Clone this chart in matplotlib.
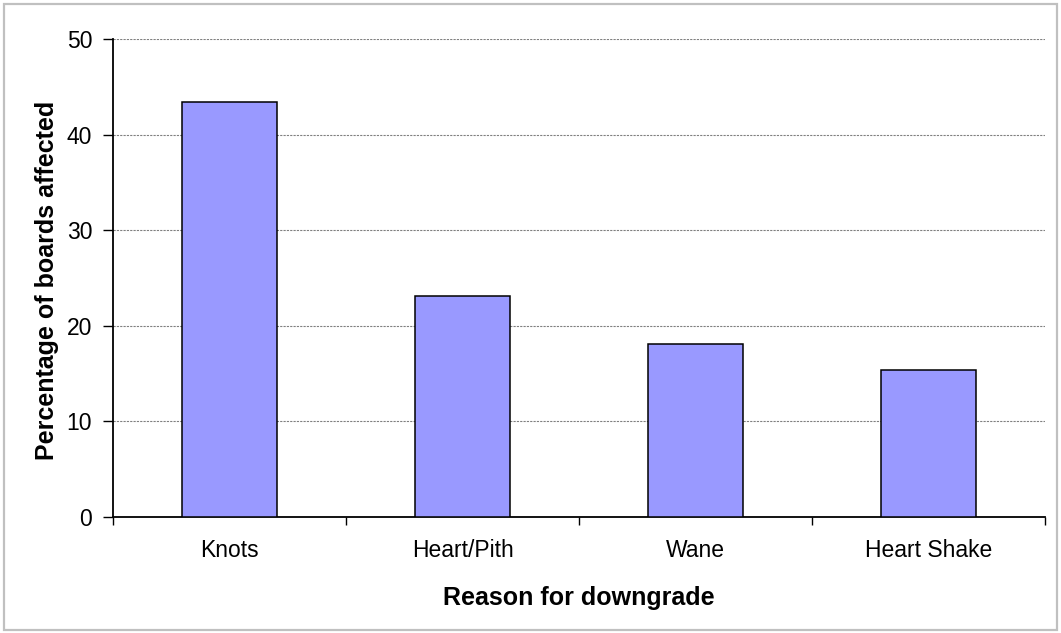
import matplotlib
matplotlib.use("Agg")
import matplotlib.pyplot as plt
from matplotlib.patches import Rectangle
import numpy as np

plt.rcParams['font.family'] = ['Liberation Sans', 'DejaVu Sans']

categories = ["Knots", "Heart/Pith", "Wane", "Heart Shake"]
percentages = [43.4, 23.1, 18.1, 15.4]
y_ticks = [0, 10, 20, 30, 40, 50]

W, H = 1061, 633
fig = plt.figure(figsize=(W / 100, H / 100), dpi=100)
fig.patch.set_facecolor("white")

# light grey frame around the whole chart
fig.add_artist(Rectangle((4 / W, 3 / H), (W - 8) / W, (H - 7) / H,
                         transform=fig.transFigure, fill=False,
                         edgecolor="#c0c0c0", linewidth=1.6))

ax = fig.add_axes([113 / W, 1 - 517 / H, 932 / W, 478 / H])
x = np.arange(len(categories))
ax.bar(x, percentages, width=0.41, color="#9999ff", edgecolor="black",
       linewidth=1.1, zorder=3)

ax.set_xlim(-0.5, len(categories) - 0.5)
ax.set_ylim(0, 50)
ax.set_yticks(y_ticks)
ax.yaxis.grid(True, color="#808080", linestyle=(0, (2, 1)), linewidth=0.8, zorder=0)
ax.set_axisbelow(True)

# major x ticks sit between categories, labels on minor ticks at centres
ax.set_xticks(np.arange(len(categories) + 1) - 0.5)
ax.set_xticklabels([])
ax.set_xticks(x, minor=True)
ax.set_xticklabels(categories, minor=True, fontsize=16.5)
ax.tick_params(axis="x", which="major", direction="out", length=6, width=1, color="black")
ax.tick_params(axis="x", which="minor", length=0, pad=16)
ax.tick_params(axis="y", direction="out", length=7, width=1, pad=8, labelsize=16.5)

for side in ("top", "right"):
    ax.spines[side].set_visible(False)
for side in ("left", "bottom"):
    ax.spines[side].set_linewidth(1.3)
    ax.spines[side].set_color("black")

fig.text(579 / W, 1 - 598 / H, "Reason for downgrade", ha="center", va="center",
         fontsize=18, fontweight="bold")
fig.text(47 / W, 1 - 280 / H, "Percentage of boards affected", ha="center", va="center",
         rotation=90, fontsize=18, fontweight="bold")

fig.savefig("out.png", dpi=100)
